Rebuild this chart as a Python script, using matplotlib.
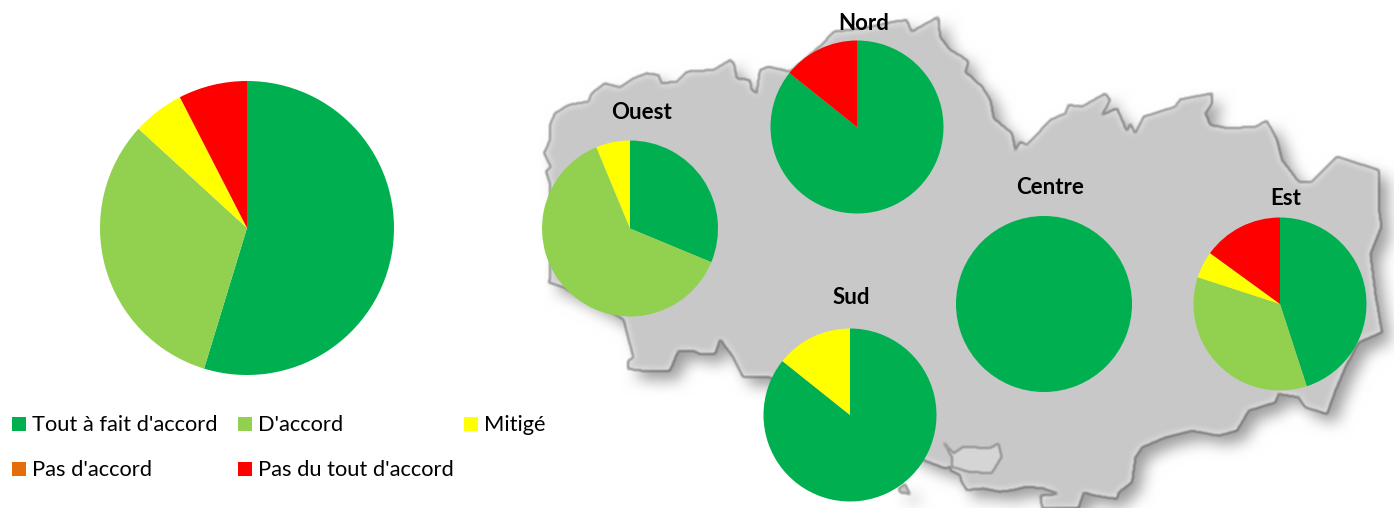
import numpy as np
import matplotlib
matplotlib.use("Agg")
import matplotlib.pyplot as plt
from matplotlib.path import Path
from matplotlib.patches import Rectangle

W, H = 1394, 508
plt.rcParams['font.family'] = ['Lato', 'DejaVu Sans']

# ---- data (respondent counts per answer) ----
answers = ["Tout à fait d'accord", "D'accord", "Mitigé", "Pas d'accord", "Pas du tout d'accord"]
colors = ['#00B050', '#92D050', '#FFFF00', '#E46C0A', '#FF0000']
total = [29, 17, 3, 0, 4]
ouest = [5, 10, 1, 0, 0]
nord = [6, 0, 0, 0, 1]
centre = [8, 0, 0, 0, 0]
sud = [6, 0, 1, 0, 0]
est = [9, 7, 1, 0, 3]

fig = plt.figure(figsize=(W / 100, H / 100), dpi=100)
ax = fig.add_axes([0, 0, 1, 1])
ax.set_xlim(0, W)
ax.set_ylim(H, 0)
ax.axis('off')

# ---- background map outline (decorative) ----
def z(off, pts):
    return [(off[0] + x / 3, off[1] + y / 3) for x, y in pts]

outline = (
    z((530, 0), [(60, 550), (48, 515), (62, 500), (42, 460), (60, 420), (60, 375), (75, 340), (115, 315),
                 (175, 305), (185, 280), (225, 250), (270, 262), (310, 235), (350, 220), (385, 225), (395, 250),
                 (440, 245), (470, 215), (550, 210), (600, 180), (612, 190), (620, 235), (660, 240), (665, 270),
                 (680, 278), (690, 210), (715, 200), (780, 215), (880, 130), (910, 95), (1000, 85), (1090, 65),
                 (1130, 60), (1145, 95), (1225, 50), (1230, 110), (1260, 150), (1296, 170)])
    + z((962, 0), [(20, 185), (10, 215), (60, 260), (85, 300), (95, 355), (150, 400), (160, 450), (175, 425),
                   (195, 435), (265, 360), (310, 340), (320, 315), (360, 320), (430, 280), (445, 300), (420, 345),
                   (465, 325), (495, 395), (505, 370), (520, 400), (545, 350), (640, 320), (655, 298), (750, 280),
                   (750, 310), (730, 340), (745, 375), (800, 385), (880, 380), (915, 362), (945, 420), (960, 480),
                   (1010, 545), (1050, 545), (1125, 470), (1250, 510), (1250, 620), (1258, 680), (1225, 762)])
    + z((962, 254), [(1240, 120), (1260, 235), (1190, 265), (1150, 340), (1120, 410), (1095, 480), (1030, 460),
                     (1010, 430), (950, 420), (940, 445), (860, 470), (825, 530), (770, 545), (690, 530),
                     (610, 550), (540, 580), (520, 610), (510, 685), (470, 715), (465, 735), (400, 725),
                     (365, 715), (350, 762), (240, 762), (235, 725), (290, 720)])
    + z((910, 420), [(400, 205), (350, 200), (310, 210), (270, 215), (220, 205), (170, 210), (155, 185),
                     (150, 165), (120, 150), (125, 140), (105, 145), (40, 120)])
    + z((530, 254), [(720, 370), (640, 370), (610, 310), (570, 255), (555, 300), (510, 300),
                     (490, 290), (445, 290), (420, 350), (355, 352), (295, 345), (295, 320), (310, 310),
                     (280, 195), (100, 100), (55, 85), (60, 75)])
)
bay = z((910, 420), [(125, 110), (100, 65), (130, 100), (160, 80), (240, 85), (265, 70), (275, 110), (245, 160),
                     (175, 155), (125, 140)])
island = z((530, 254), [(1105, 705), (1125, 690), (1140, 720), (1110, 715)])

# raster map: soft shadow, blurred coast, embossed band
yy, xx = np.mgrid[0:H, 0:W]
grid = np.c_[xx.ravel() + 0.5, yy.ravel() + 0.5]
def raster(pts):
    return Path(pts + [pts[0]]).contains_points(grid).reshape(H, W)

land = raster(outline) | raster(island)
inner = raster(bay)

def blur(a, n):
    pad = 40
    a = np.pad(a.astype(float), pad)
    k = np.ones(2 * n + 1) / (2 * n + 1)
    for _ in range(2):
        a = np.apply_along_axis(lambda r: np.convolve(r, k, mode='same'), 0, a)
        a = np.apply_along_axis(lambda r: np.convolve(r, k, mode='same'), 1, a)
    return a[pad:-pad, pad:-pad]

# shift the blurred shadow down and right without wrapping round the edges
soft = blur(land, 8)
shadow = np.zeros_like(soft)
shadow[9:, 9:] = soft[:-9, :-9]
b1 = blur(land, 1)
b3 = blur(land, 4)
line = np.clip(4 * b1 * (1 - b1), 0, 1)
band = np.clip(4 * b3 * (1 - b3), 0, 1) * (b3 > 0.5)

img = 1 - 0.38 * shadow
land_col = 0.785 + 0.07 * band
img = img * (1 - b1) + land_col * b1
img = img * (1 - 0.28 * line)
# the enclosed bay, lighter and outlined
bb = blur(inner, 1)
img = img * (1 - 0.6 * bb) + 0.87 * 0.6 * bb
img = img * (1 - 0.25 * np.clip(4 * bb * (1 - bb), 0, 1))
ax.imshow(np.dstack([img] * 3), extent=(0, W, H, 0), zorder=0, aspect='auto', interpolation='bilinear')

# ---- pies (the y axis is inverted, so counterclock in data space runs clockwise on screen) ----
def pie_cw(values, cx, cy, r):
    ax.pie(values, colors=colors, center=(cx, cy), radius=r, startangle=-90, counterclock=True,
           wedgeprops=dict(linewidth=0, zorder=5), frame=False)

pie_cw(total, 247, 228, 147)
pie_cw(ouest, 630, 228.5, 88)
pie_cw(nord, 857, 127, 86.5)
pie_cw(centre, 1044, 304, 88)
pie_cw(sud, 850, 415, 86.5)
pie_cw(est, 1280, 304, 86.5)
ax.set_xlim(0, W)
ax.set_ylim(H, 0)
ax.set_aspect('auto')

# ---- region labels ----
labels = [("Ouest", 641.5, 119), ("Nord", 864, 30), ("Centre", 1049.7, 194), ("Sud", 851.7, 304), ("Est", 1286, 205)]
for name, x, y in labels:
    ax.text(x, y, name, ha='center', va='baseline', fontsize=16, fontweight='bold', color='black', zorder=10)

# ---- legend ----
legend_pos = [(12, 424), (238, 424), (464, 424), (12, 469), (238, 469)]
for name, c, (x, y) in zip(answers, colors, legend_pos):
    ax.add_patch(Rectangle((x, y - 7), 13.5, 14, fc=c, ec='none', zorder=10))
    ax.text(x + 20, y + 7, name, ha='left', va='baseline', fontsize=15.75, color='black', zorder=10)

fig.savefig('out.png', dpi=100)
